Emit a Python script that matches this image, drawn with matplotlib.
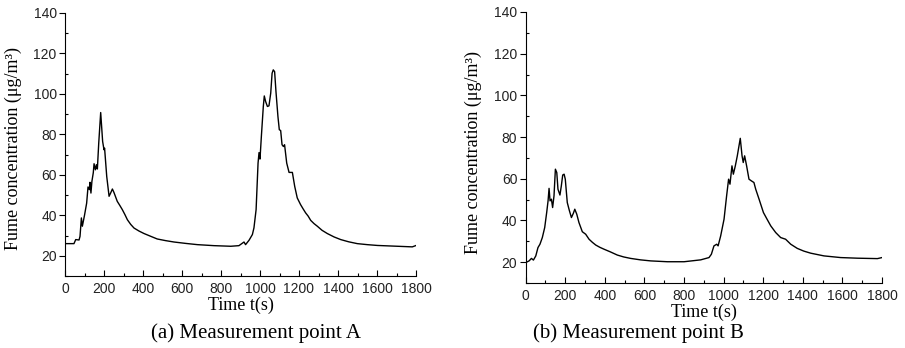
import matplotlib
matplotlib.use("Agg")
import matplotlib.pyplot as plt
from matplotlib.ticker import MultipleLocator

# point A
time_a = [0, 46, 55, 72, 77, 84, 89, 100, 111, 118, 125, 128, 133, 138, 145, 149, 156, 161, 166,
          173, 183, 193, 200, 203, 214, 226, 234, 243, 251, 268, 281, 294, 307, 320, 337, 354, 380,
          405, 440, 473, 515, 559, 620, 679, 764, 850, 892, 918, 926, 944, 961, 969, 980, 990, 995,
          1000, 1007, 1017, 1022, 1029, 1038, 1046, 1055, 1062, 1068, 1075, 1082, 1092, 1099, 1106,
          1113, 1120, 1126, 1137, 1149, 1166, 1178, 1191, 1208, 1221, 1234, 1247, 1260, 1277, 1294,
          1318, 1345, 1380, 1414, 1455, 1499, 1550, 1602, 1704, 1781, 1798]
conc_a = [26, 26, 28, 27.8, 29.6, 38.7, 34.6, 40, 46, 54, 52.7, 56.3, 51, 56.8, 61, 65.5, 62.5, 65, 62.9,
          75.7, 90.8, 76.5, 72.4, 73.2, 59.2, 49.4, 51, 53, 51.3, 46.9, 44.9, 42.8, 40.4, 37.8, 35.5, 33.7, 32.2,
          31, 29.6, 28.3, 27.5, 26.8, 26.1, 25.5, 25, 24.7, 25, 26.8, 25.5, 27.7, 30.5, 33.8, 42.8, 65.8, 71,
          67.8, 79, 93.8, 99, 96.2, 93.8, 94.1, 100.4, 110.2, 111.9, 111, 101, 88.8, 82.3, 81.9,
          74.9, 74, 74.9, 65.8, 61.2, 61.2, 54.3, 48.6, 45.3, 43.2, 41.2, 39.6, 37.5, 35.9, 34.6,
          32.6, 31, 29.3, 28, 26.9, 26, 25.5, 25.1, 24.7, 24.4, 25]

# point B
time_b = [0, 17, 29, 39, 51, 62, 72, 84, 96, 106, 113, 118, 123, 130, 136, 143, 150, 157, 163, 173,
          180, 187, 194, 200, 210, 221, 231, 241, 248, 258, 269, 286, 303, 320, 337, 354, 375, 396,
          426, 463, 495, 530, 580, 632, 716, 800, 884, 926, 938, 951, 965, 972, 985, 1002, 1015,
          1025, 1032, 1042, 1049, 1059, 1069, 1079, 1084, 1093, 1099, 1106, 1116, 1128, 1140, 1153,
          1162, 1179, 1201, 1217, 1238, 1263, 1288, 1313, 1339, 1372, 1405, 1440, 1507, 1591, 1676,
          1777, 1800]
conc_b = [19.8, 20.6, 21.8, 21, 23, 27, 28.6, 31.8, 36.6, 43.8, 49.4, 55.4, 49.4, 50.2, 46.2, 51.8, 64.6, 63, 55, 52.2,
          56.6, 61.8, 62.2, 59.8, 48.6, 44.6, 41.4, 43.5, 45.4, 43, 39, 34.6, 33.4, 31, 29.5, 28.2, 27.1, 26.2,
          25, 23.4, 22.5, 21.8, 21.1, 20.6, 20.2, 20.2, 21.1, 22.2, 23.8, 27.8, 28.6, 27.8, 32.6, 40.6, 51.8,
          59.8, 57.4, 66.2, 62.2, 66.2, 71, 76.6, 79.4, 71, 67.8, 71, 66.2, 59.8, 59, 58.2,
          55, 50.2, 43.8, 41, 37.4, 34.2, 31.8, 31, 28.6, 26.6, 25.3, 24.3, 23, 22.2, 21.9,
          21.7, 22.2]

y_label = "Fume concentration (μg/m³)"
x_label = "Time t(s)"
captions = ["(a) Measurement point A", "(b) Measurement point B"]

serif = "Liberation Serif"
sans = "Liberation Sans"

fig = plt.figure(figsize=(9.05, 3.48), dpi=100)
ax_a = fig.add_axes([65 / 905, 1 - 276 / 348, 351 / 905, 263 / 348])
ax_b = fig.add_axes([525.7 / 905, 1 - 283 / 348, 356.3 / 905, 271 / 348])

for ax, t, c in [(ax_a, time_a, conc_a), (ax_b, time_b, conc_b)]:
    ax.plot(t, c, color="black", lw=1.0)
    ax.set_xlim(0, 1800)
    ax.set_ylim(10, 140)
    ax.spines["top"].set_visible(False)
    ax.spines["right"].set_visible(False)
    ax.xaxis.set_major_locator(MultipleLocator(200))
    ax.xaxis.set_minor_locator(MultipleLocator(100))
    ax.set_yticks(range(20, 141, 20))
    ax.yaxis.set_minor_locator(MultipleLocator(10))
    ax.tick_params(axis="x", which="major", direction="in", length=4, width=0.8, pad=4)
    ax.tick_params(axis="x", which="minor", direction="in", length=2.5, width=0.8)
    ax.tick_params(axis="y", which="major", direction="out", length=4, width=0.8, pad=2)
    ax.tick_params(axis="y", which="minor", direction="in", length=2.5, width=0.8)
    for lab in ax.get_xticklabels() + ax.get_yticklabels():
        lab.set_fontfamily(sans)
        lab.set_fontsize(10)
        lab.set_color("#222222")
    ax.set_xlabel(x_label, family=serif, fontsize=13, labelpad=1)

fig.text(13 / 905, 1 - 148 / 348, y_label, rotation=90, ha="center", va="center",
         family=serif, fontsize=13)
fig.text(473 / 905, 1 - 152 / 348, y_label, rotation=90, ha="center", va="center",
         family=serif, fontsize=13)
fig.text(256 / 905, 1 - 333 / 348, captions[0], ha="center", va="center", family=serif, fontsize=15)
fig.text(638 / 905, 1 - 333 / 348, captions[1], ha="center", va="center", family=serif, fontsize=15)

fig.savefig("out.png", dpi=100)
